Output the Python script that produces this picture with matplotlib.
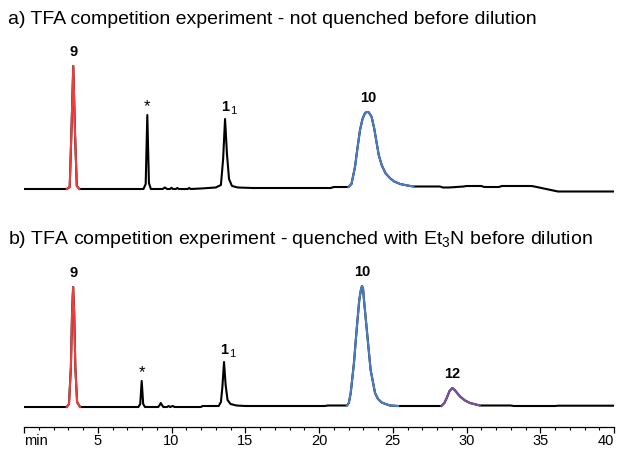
import numpy as np
import matplotlib
matplotlib.use("Agg")
import matplotlib.pyplot as plt

plt.rcParams['font.family'] = ['Liberation Sans', 'DejaVu Sans']
plt.rcParams['mathtext.fontset'] = 'custom'
plt.rcParams['mathtext.rm'] = 'Liberation Sans'

# chromatogram a) not quenched: (time in min, signal above baseline)
trace_a = [
    (0, 0), (2.9, 0), (3.1, 2), (3.22, 60), (3.34, 123), (3.46, 55), (3.58, 3), (3.75, 0),
    (8.1, 0), (8.25, 5), (8.36, 74), (8.47, 6), (8.6, 0),
    (9.4, 0), (9.55, 1.5), (9.7, 0), (9.9, 0), (10.0, 1.2), (10.1, 0), (10.3, 0),
    (10.4, 1), (10.5, 0), (11.1, 0), (11.2, 1), (11.3, 0),
    (12.0, 0.5), (13.0, 1.5), (13.35, 4), (13.5, 30), (13.63, 70), (13.76, 35),
    (13.9, 10), (14.1, 3), (14.5, 1.5), (15.5, 1),
    (20.8, 1), (21.0, 2), (22.0, 2), (22.2, 5), (22.44, 22), (22.6, 40), (22.78, 59),
    (22.95, 70), (23.12, 76), (23.25, 77), (23.35, 77), (23.45, 75), (23.57, 72),
    (23.75, 60), (23.91, 46), (24.05, 34), (24.25, 24), (24.5, 16), (24.8, 11),
    (25.1, 7.5), (25.5, 5), (26.0, 3.5), (26.4, 2.5),
    (28.2, 2.5), (28.4, 1.5), (28.8, 1.5), (29.8, 2.5), (30.0, 3), (31.0, 3),
    (31.2, 2), (32.2, 2), (32.4, 3), (34.4, 3), (34.6, 2.5), (36.2, -2.5), (40, -2.5),
]

# chromatogram b) quenched with Et3N
trace_b = [
    (0, 0), (2.9, 0), (3.05, 3), (3.18, 40), (3.26, 95), (3.33, 120), (3.4, 95),
    (3.48, 40), (3.6, 5), (3.8, 0),
    (7.75, 0), (7.88, 3), (7.98, 26), (8.08, 3), (8.2, 0),
    (9.1, 0), (9.2, 2), (9.27, 4), (9.35, 2), (9.45, 0),
    (9.7, 0), (9.8, 1), (9.9, 0), (10.1, 1), (10.2, 0), (10.3, 0),
    (12.0, 0), (12.1, 1), (13.2, 1), (13.35, 5), (13.45, 20), (13.56, 45),
    (13.67, 22), (13.8, 7), (14.0, 3), (14.4, 1.5), (15.0, 1),
    (20.4, 1), (20.6, 1.5), (21.9, 1.5), (22.02, 4), (22.15, 14), (22.37, 44),
    (22.55, 77), (22.73, 107), (22.85, 118), (22.92, 121), (22.99, 118),
    (23.05, 107), (23.28, 71), (23.5, 37), (23.8, 14), (24.0, 8), (24.25, 4.5),
    (24.8, 1.5), (25.36, 1),
    (28.3, 1), (28.5, 4), (28.66, 9), (28.85, 16), (29.04, 19), (29.2, 17),
    (29.56, 10.5), (29.9, 6.5), (30.24, 4), (30.9, 1.5),
    (33.0, 1.5), (33.2, 1), (36.0, 1), (36.2, 1.3), (40, 1.3),
]

# coloured peak ranges (start, end, colour)
segments_a = [(2.9, 3.75, '#f03c3c'), (22.0, 26.4, '#4a7cc7')]
segments_b = [(2.9, 3.8, '#f03c3c'), (21.9, 25.36, '#4a7cc7'), (28.3, 30.9, '#7b4fa6')]

# peak labels (time, label)
labels_a = [(3.34, '9'), (8.36, '*'), (13.63, '1'), (23.35, '10')]
labels_b = [(3.33, '9'), (7.98, '*'), (13.56, '1'), (22.92, '10'), (29.04, '12')]

titles = ['a) TFA competition experiment - not quenched before dilution',
          'b) TFA competition experiment - quenched with Et$_3$N before dilution']

tick_pos = [0, 5, 10, 15, 20, 25, 30, 35, 40]
tick_txt = ['min', '5', '10', '15', '20', '25', '30', '35', '40']

W, H = 620, 450
fig = plt.figure(figsize=(W / 100, H / 100), dpi=100)
axis_row = 427
ax = fig.add_axes([24 / W, (H - axis_row) / H, 590 / W, axis_row / H])
ax.set_xlim(0, 40)
ax.set_ylim(0, axis_row)
ax.patch.set_alpha(0)

offsets = [axis_row - 189, axis_row - 407]
lw = 1.5


def draw(trace, segs, labs, base):
    t = np.array([p[0] for p in trace])
    v = np.array([p[1] for p in trace]) + base
    ax.plot(t, v, color='black', lw=lw, solid_joinstyle='round', zorder=2)
    for t0, t1, c in segs:
        m = (t >= t0) & (t <= t1)
        ax.plot(t[m], v[m], color=c, lw=lw, solid_joinstyle='round', zorder=3)
    for tp, txt in labs:
        top = np.interp(tp, t, v)
        if txt == '*':
            ax.text(tp, top + 1, '*', ha='center', va='bottom', fontsize=12)
        elif txt == '1':
            ax.text(tp, top + 5, '1', ha='center', va='bottom', fontsize=10.5,
                    fontweight='bold')
            ax.text(tp + 0.32, top + 3, '1', ha='left', va='bottom', fontsize=8)
        else:
            ax.text(tp, top + 7, txt, ha='center', va='bottom', fontsize=10.5,
                    fontweight='bold')


draw(trace_a, segments_a, labels_a, offsets[0])
draw(trace_b, segments_b, labels_b, offsets[1])

fig.text(8 / W, 1 - 19 / H, titles[0], fontsize=14, va='center', ha='left')
fig.text(8 / W, 1 - 239 / H, titles[1], fontsize=14, va='center', ha='left')

for s in ['top', 'left', 'right']:
    ax.spines[s].set_visible(False)
ax.spines['bottom'].set_linewidth(0.9)
ax.set_yticks([])
ax.set_xticks(tick_pos)
ax.set_xticklabels(tick_txt)
ax.set_xticks(np.arange(0, 41, 1), minor=True)
ax.tick_params(axis='x', which='major', length=4, width=0.9, labelsize=10.5, pad=1)
ax.tick_params(axis='x', which='minor', length=2.5, width=0.8)
ax.get_xticklabels()[0].set_ha('left')
ax.get_xticklabels()[-1].set_ha('right')

fig.savefig('out.png', dpi=100)
